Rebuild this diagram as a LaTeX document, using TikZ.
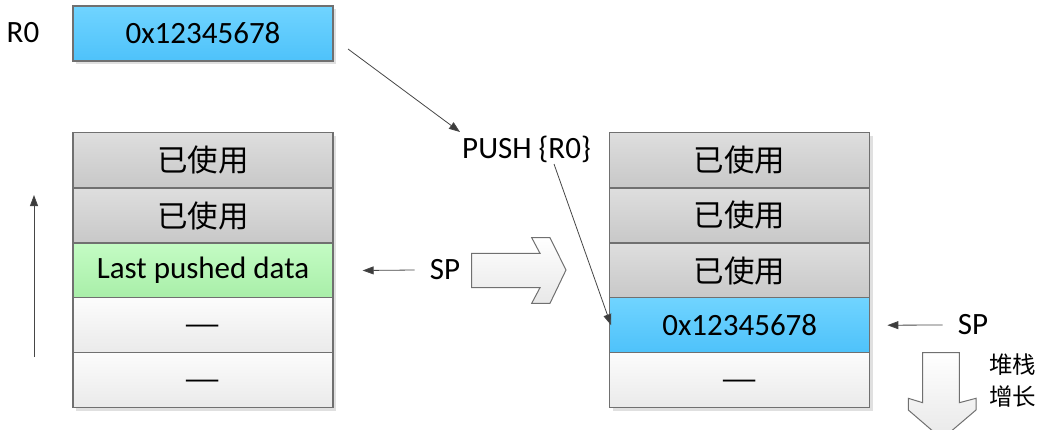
\documentclass[tikz,border=0pt]{standalone}
\usepackage{fontspec}
\usepackage{graphicx}
\setmainfont{Carlito}
\newfontfamily\cjk{Noto Sans CJK SC}
\usetikzlibrary{arrows.meta,shadows}
\newcommand{\mydash}{\raisebox{-5pt}[\height][\depth]{\scalebox{1.35}[1]{—}}}
\definecolor{bordc}{RGB}{112,112,112}
\definecolor{lineC}{RGB}{70,70,70}
\definecolor{tipC}{RGB}{60,60,60}
\definecolor{grayT}{RGB}{222,222,222}
\definecolor{grayB}{RGB}{200,200,200}
\definecolor{blueT}{RGB}{112,212,255}
\definecolor{blueB}{RGB}{78,194,250}
\definecolor{greenT}{RGB}{196,252,196}
\definecolor{greenB}{RGB}{168,238,168}
\definecolor{whiteT}{RGB}{252,252,252}
\definecolor{whiteB}{RGB}{234,234,234}
\begin{document}
\begin{tikzpicture}[x=1pt,y=-1pt,
  cell/.style={draw=bordc, line width=1.3pt, minimum width=260pt, minimum height=55pt,
    inner sep=0pt, font=\fontsize{31}{36}\selectfont,
    drop shadow={shadow xshift=3pt, shadow yshift=-3pt, opacity=0.12, fill=black}},
  usedcell/.style={cell, top color=grayT, bottom color=grayB, font=\cjk\fontsize{30.5}{36}\selectfont},
  bluecell/.style={cell, top color=blueT, bottom color=blueB},
  greencell/.style={cell, top color=greenT, bottom color=greenB},
  emptycell/.style={cell, top color=whiteT, bottom color=whiteB, font=\cjk\fontsize{30}{36}\selectfont},
  lbl/.style={font=\fontsize{31}{36}\selectfont, inner sep=0pt},
  arr/.style={draw=lineC, line width=0.8pt, -{Triangle[length=11pt,width=8pt,fill=tipC]}},
  blockarrow/.style={draw=bordc, line width=1pt, top color=white, bottom color=black!9}
]
\useasboundingbox (0,0) rectangle (1037,429);

% R0 register
\node[lbl] (r0lbl) at (23,33) {R0};
\node[bluecell] (r0) at (203,33.5) {0x12345678};

% left stack
\node[usedcell] (l1) at (203,160.2) {已使用};
\node[usedcell] (l2) at (203,215.5) {已使用};
\node[greencell] (l3) at (203,270.5) {Last pushed data};
\node[emptycell] (l4) at (203,325.2) {\mydash};
\node[emptycell] (l5) at (203,380) {\mydash};

% right stack
\node[usedcell] (r1) at (739.7,160.2) {已使用};
\node[usedcell] (r2) at (739.7,215.4) {已使用};
\node[usedcell] (r3) at (739.7,270.5) {已使用};
\node[bluecell] (r4) at (739.7,325.2) {0x12345678};
\node[emptycell] (r5) at (739.7,380) {\mydash};

% labels
\node[lbl] (push) at (526.5,149) {PUSH \{R0\}};
\node[lbl] (sp1) at (445,270) {SP};
\node[lbl] (sp2) at (973,325) {SP};
\node[font=\cjk\fontsize{23.5}{32}\selectfont, align=left, inner sep=0pt] (grow) at (1012.5,381) {堆栈\\增长};

% growth direction arrow (left)
\coordinate (upS) at (34,357);
\coordinate (upE) at (34,195);
\draw[arr] (upS) -- (upE);

% R0 -> PUSH
\coordinate (r0out) at (348,49);
\coordinate (pushin) at (460,132);
\draw[arr] (r0out) -- (pushin);

% PUSH -> new stack top
\coordinate (pushout) at (554,164);
\draw[arr] (pushout) -- ([xshift=2pt]r4.west);

% SP pointers
\draw[arr] ([xshift=-15pt]sp1.west) -- ([xshift=29pt]l3.east);
\draw[arr] ([xshift=-15pt]sp2.west) -- ([xshift=17pt]r4.east);

% big right block arrow
\path[blockarrow] (471.7,253.3) -- (540,253.3) -- (531.7,237.7) -- (550,237.7) -- (566,270)
  -- (550,303.3) -- (531.7,303.3) -- (540,287.7) -- (471.7,287.7) -- cycle;

% big down block arrow
\path[blockarrow] (922.7,352.7) -- (959.3,352.7) -- (959.3,402.7) -- (976,398.3) -- (976,410)
  -- (942,439) -- (908.3,410) -- (908.3,398.3) -- (922.7,402.7) -- cycle;
\end{tikzpicture}
\end{document}
